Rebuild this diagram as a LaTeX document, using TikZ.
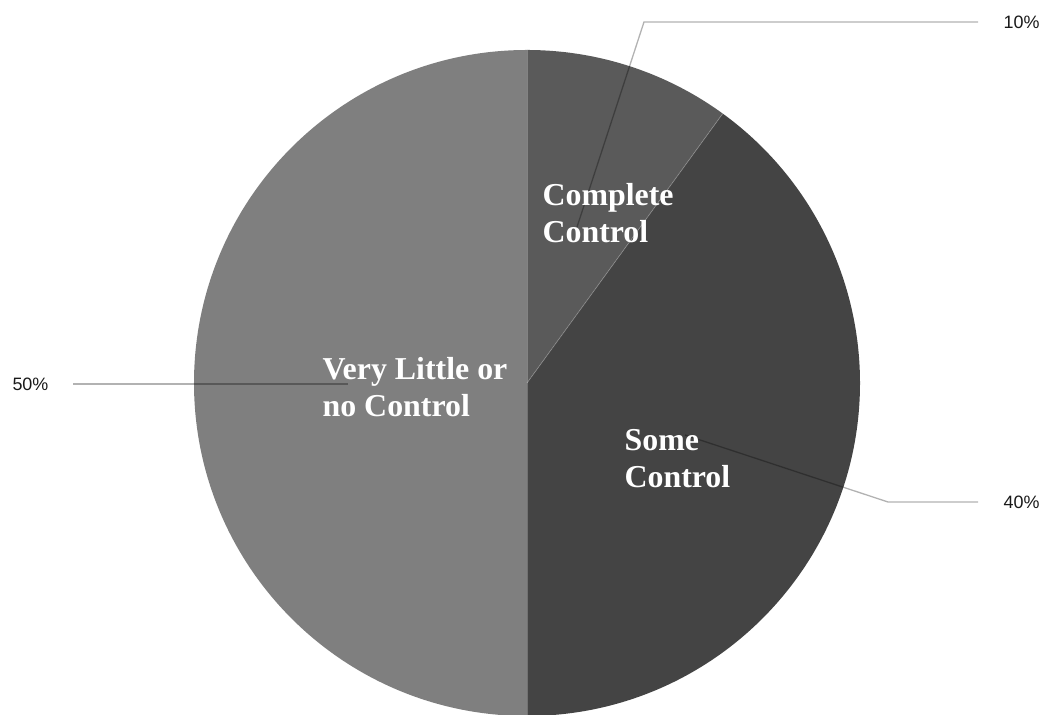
\documentclass[tikz,border=0pt]{standalone}
\usepackage{fontspec}
\setmainfont{Liberation Serif}
\newfontfamily\pctfont{Liberation Sans}
\usetikzlibrary{positioning}
\tikzset{
    > = latex
}
\definecolor{littlegray}{HTML}{7F7F7F}
\definecolor{completegray}{HTML}{5A5A5A}
\definecolor{somegray}{HTML}{444444}

\begin{document}
\begin{tikzpicture}[x=1bp, y=1bp, line width=1.2bp]
        \tikzstyle{lbl}=[text=white, font=\fontsize{32}{37}\selectfont\bfseries, align=left, inner sep=0, anchor=north west]
        \tikzstyle{pct}=[text=black!90, font=\pctfont\fontsize{18}{20}\selectfont, inner sep=0]
        \tikzstyle{lead}=[draw=black, draw opacity=.3, line width=1.3bp]
        \tikzstyle{sep}=[draw=white, draw opacity=.25, line width=.8bp]
        \useasboundingbox (0,0) rectangle (1044,715);
        \coordinate (c) at (527,332);
        % slices
        \fill[littlegray] (c) -- ++(90:333bp) arc (90:270:333bp) -- cycle;
        \fill[completegray] (c) -- ++(54:333bp) arc (54:90:333bp) -- cycle;
        \fill[somegray] (c) -- ++(-90:333bp) arc (-90:54:333bp) -- cycle;
        \draw[sep] (c) -- ++(90:333bp);
        \draw[sep] (c) -- ++(-90:333bp);
        \draw[sep] (c) -- ++(54:333bp);
        % percentages
        \node[pct, anchor=west] (p10) at (1003,693) {10\%};
        \node[pct, anchor=west] (p40) at (1003,213) {40\%};
        \node[pct, anchor=east] (p50) at (49,331) {50\%};
        \coordinate (t10) at (577,488);
        \coordinate (k10) at (644,693);
        \coordinate (t40) at (685,280);
        \coordinate (k40) at (888,213);
        \coordinate (t50) at (348,331);
        \draw[lead, shorten >=25bp] (t10) -- (k10) -- (k10 -| p10.west);
        \draw[lead, shorten >=25bp] (t40) -- (k40) -- (k40 -| p40.west);
        \draw[lead, shorten >=24bp] (t50) -- (t50 -| p50.east);
        % slice names
        \node[lbl] (cc) at (542,532) {Complete\\Control};
        \node[lbl] (sc) at (624,286) {Some\\Control};
        \node[lbl] (vl) at (322,358) {Very Little or\\no Control};
    \end{tikzpicture}
\end{document}
